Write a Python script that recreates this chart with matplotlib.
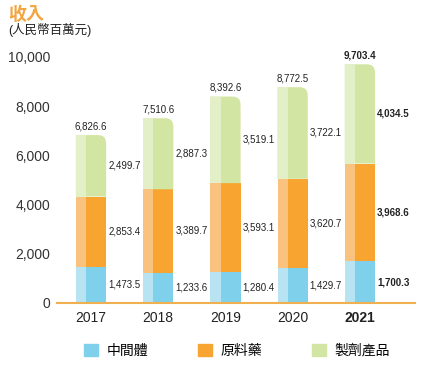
import matplotlib
matplotlib.use("Agg")
import matplotlib.pyplot as plt
import numpy as np
from matplotlib.patches import Patch, PathPatch
from matplotlib.path import Path

plt.rcParams['font.family'] = ['Liberation Sans', 'Noto Sans CJK TC']

# data
years = ['2017', '2018', '2019', '2020', '2021']
intermediate = [1473.5, 1233.6, 1280.4, 1429.7, 1700.3]
api = [2853.4, 3389.7, 3593.1, 3620.7, 3968.6]
finished = [2499.7, 2887.3, 3519.1, 3722.1, 4034.5]
totals = [6826.6, 7510.6, 8392.6, 8772.5, 9703.4]
series_names = ['中間體', '原料藥', '製劑產品']
colors = ['#7fd0ea', '#f7a430', '#d3e5a2']
light = ['#b8e3f3', '#f9c27f', '#e3efc6']

fig = plt.figure(figsize=(4.27, 3.74), dpi=100)
ax = fig.add_axes([57/427, 71/374, 358/427, 246/374])

x = np.arange(len(years))
w = 0.45
bottoms = np.zeros(len(years))
for k, vals in enumerate([intermediate, api, finished]):
    vals = np.array(vals)
    for i in range(len(years)):
        x0 = x[i] - w/2
        y0 = bottoms[i]
        h = vals[i]
        if k == 2:
            # top segment with rounded top-right corner
            rx, ry = 0.12, 330
            verts = [(x0, y0), (x0 + w, y0), (x0 + w, y0 + h - ry),
                     (x0 + w, y0 + h), (x0 + w - rx, y0 + h),
                     (x0, y0 + h), (x0, y0)]
            codes = [Path.MOVETO, Path.LINETO, Path.LINETO,
                     Path.CURVE3, Path.CURVE3, Path.LINETO, Path.CLOSEPOLY]
            ax.add_patch(PathPatch(Path(verts, codes), fc=colors[k], ec='none', zorder=2))
        else:
            ax.bar(x[i], h, w, bottom=y0, color=colors[k], zorder=2)
        # lighter highlight on the left part
        ax.bar(x0 + w*0.17, h, w*0.34, bottom=y0, color=light[k], zorder=3)
        bold = 'bold' if i == len(years) - 1 else 'normal'
        ax.text(x0 + w + 0.03, y0 + h/2, f'{h:,.1f}', fontsize=7, va='center',
                ha='left', color='#222222', fontweight=bold, zorder=4)
    bottoms += vals

for i, t in enumerate(totals):
    bold = 'bold' if i == len(years) - 1 else 'normal'
    ax.text(x[i], t + 150, f'{t:,.1f}', fontsize=7, ha='center', va='bottom',
            color='#222222', fontweight=bold, clip_on=False)

ax.set_xlim(-0.506, 4.82)
ax.set_ylim(0, 10000)
ax.set_yticks(np.arange(0, 10001, 2000))
ax.set_yticklabels([f'{v:,}' for v in range(0, 10001, 2000)], fontsize=10, color='#333333')
ax.set_xticks(x)
ax.set_xticklabels(years, fontsize=10, color='#222222')
ax.get_xticklabels()[-1].set_fontweight('bold')
ax.tick_params(length=0, pad=6)
ax.tick_params(axis='y', pad=5)
for s in ['top', 'right', 'left']:
    ax.spines[s].set_visible(False)
ax.spines['bottom'].set_color('#f0b050')
ax.spines['bottom'].set_linewidth(1.5)
ax.spines['bottom'].set_zorder(5)

fig.text(8/427, 1 - 15/374, '收入', fontsize=13, fontweight='bold', color='#f2a540', va='center')
fig.text(8/427, 1 - 30/374, '(人民幣百萬元)', fontsize=9, color='#222222', va='center')

handles = [Patch(color=c) for c in colors]
fig.legend(handles, series_names, loc='center', bbox_to_anchor=(0.555, 1 - 351/374),
           ncol=3, frameon=False, fontsize=10, handlelength=1.0, handleheight=1.0,
           columnspacing=3.6, handletextpad=0.6)

fig.savefig('out.png', dpi=100)
